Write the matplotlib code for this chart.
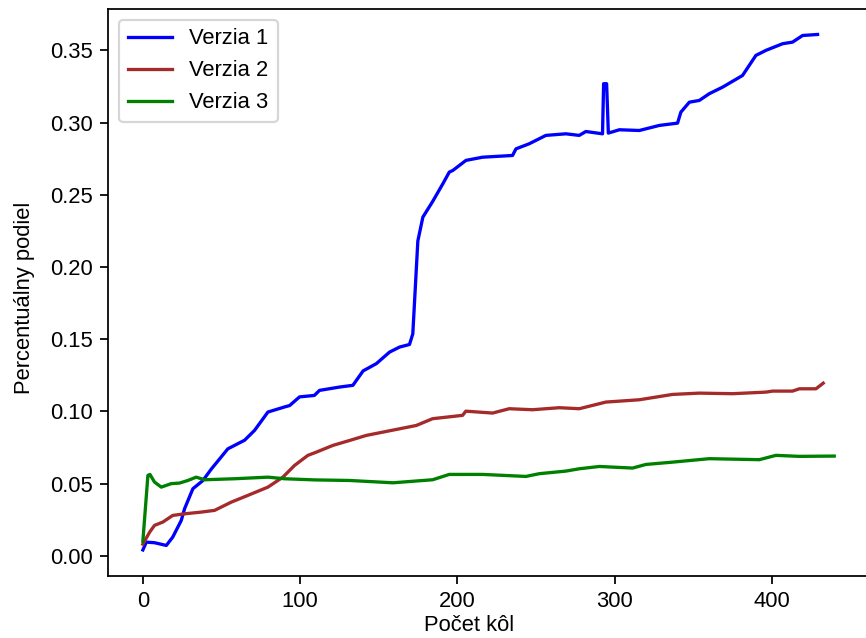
import matplotlib
matplotlib.use("Agg")
import matplotlib.pyplot as plt

plt.rcParams['font.family'] = ['Liberation Sans', 'DejaVu Sans']

# Verzia 1 (blue)
v1_x = [0, 2.2, 7.4, 14.9, 19, 24.4, 26.5, 31.8, 38.1, 43.5, 54, 64.7, 71, 79.5,
        90, 93.3, 99.6, 109, 112.3, 125, 133.5, 140, 148.4, 156.8, 163.2, 169.5,
        171.6, 174.8, 178, 184.3, 190.7, 194.8, 197, 205.4, 216, 235, 237.2,
        245.6, 256.2, 268.9, 277.4, 281.6, 292.2, 292.9, 294.8, 295.9, 302.9,
        315.6, 328.3, 339.9, 342, 347.4, 353.7, 360.1, 368.5, 381.2, 389.7,
        396.1, 406.7, 413, 419.4, 428.9]
v1_y = [0.004, 0.0094, 0.009, 0.0071, 0.0129, 0.0244, 0.0325, 0.0464, 0.052,
        0.060, 0.074, 0.080, 0.0868, 0.0995, 0.103, 0.104, 0.110, 0.111, 0.1145,
        0.1168, 0.118, 0.128, 0.133, 0.141, 0.1445, 0.1463, 0.1537, 0.218,
        0.2345, 0.2455, 0.2576, 0.2657, 0.2668, 0.2738, 0.276, 0.2772, 0.2818,
        0.2853, 0.2911, 0.2922, 0.2911, 0.2938, 0.2922, 0.3269, 0.3269, 0.2927,
        0.295, 0.2945, 0.298, 0.2996, 0.3072, 0.3141, 0.3153, 0.320, 0.3245,
        0.3326, 0.3465, 0.350, 0.3546, 0.3557, 0.3603, 0.361]

# Verzia 2 (brown/red)
v2_x = [0, 4.3, 7.4, 12.7, 19, 26.5, 37.1, 45.6, 56.2, 66.8, 79.5, 89, 96.4,
        104.9, 110.2, 120.8, 131.4, 142, 152.6, 163.2, 173.8, 184.2, 203.2,
        205.3, 222.3, 232.9, 247.7, 264.7, 277.4, 294.3, 315.6, 336.7, 353.7,
        374.9, 396.1, 400.3, 413, 417.3, 427.9, 432.5]
v2_y = [0.008, 0.0163, 0.021, 0.0233, 0.0279, 0.029, 0.0302, 0.0314, 0.0371,
        0.0418, 0.0475, 0.0544, 0.0625, 0.0695, 0.0717, 0.0764, 0.0798, 0.0833,
        0.0856, 0.0879, 0.0902, 0.0949, 0.0972, 0.1001, 0.0988, 0.1018, 0.1011,
        0.1025, 0.1018, 0.1064, 0.108, 0.1117, 0.1126, 0.1122, 0.1133, 0.114,
        0.114, 0.1156, 0.1156, 0.1195]

# Verzia 3 (green)
v3_x = [0, 3.2, 4.5, 7.4, 11.7, 18, 23.3, 28.6, 33.9, 39.2, 58.3, 79.5, 90,
        109.2, 131.4, 159, 184.2, 194.8, 216, 243.5, 252, 268.9, 277.4, 290.2,
        311.3, 319.8, 336.7, 360.1, 391.9, 402.4, 417.3, 439.5]
v3_y = [0.010, 0.0556, 0.0563, 0.051, 0.0475, 0.0499, 0.0503, 0.0521, 0.0544,
        0.0526, 0.0533, 0.0544, 0.0533, 0.0525, 0.0521, 0.0505, 0.0526, 0.0563,
        0.0563, 0.0549, 0.0568, 0.0586, 0.0602, 0.0618, 0.0607, 0.0632, 0.0648,
        0.0672, 0.0665, 0.0695, 0.0688, 0.069]

labels = ['Verzia 1', 'Verzia 2', 'Verzia 3']
colors = ['blue', 'brown', 'green']

W, H, DPI = 866, 638, 158
fig = plt.figure(figsize=(W / DPI, H / DPI), dpi=DPI)
ax = fig.add_axes([108.3 / W, (H - 575.7) / H, 760.5 / W, 567.0 / H])

for xs, ys, lab, col in zip([v1_x, v2_x, v3_x], [v1_y, v2_y, v3_y], labels, colors):
    ax.plot(xs, ys, color=col, label=lab, linewidth=1.5)

ax.set_xticks([0, 100, 200, 300, 400])
ax.set_yticks([0.00, 0.05, 0.10, 0.15, 0.20, 0.25, 0.30, 0.35])
ax.set_xlabel('Počet kôl', labelpad=1.5)
ax.set_ylabel('Percentuálny podiel', labelpad=7)
ax.xaxis.label.set_x(0.475)
ax.yaxis.label.set_y(0.49)
ax.legend(loc='upper left')

fig.savefig('out.png', dpi=DPI)
